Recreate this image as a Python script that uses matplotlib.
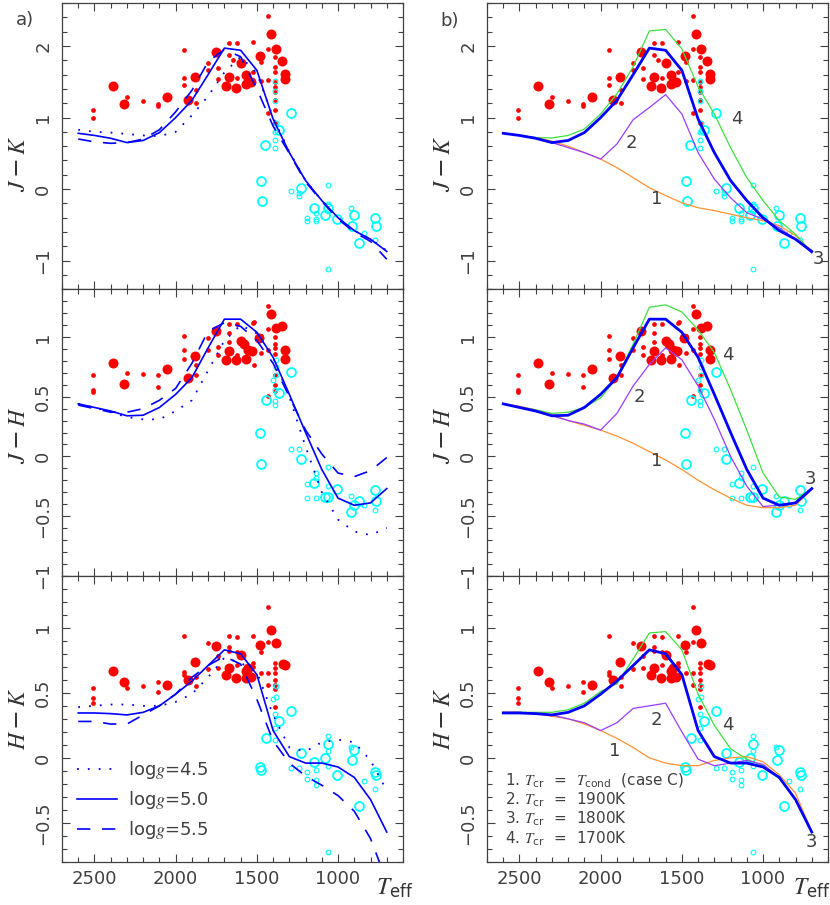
import numpy as np
import matplotlib
matplotlib.use('Agg')
import matplotlib.pyplot as plt
from matplotlib.ticker import MultipleLocator, FuncFormatter

plt.rcParams['font.family'] = ['DejaVu Sans']
plt.rcParams['mathtext.fontset'] = 'custom'
plt.rcParams['mathtext.rm'] = 'DejaVu Sans'
plt.rcParams['mathtext.sf'] = 'DejaVu Sans'
plt.rcParams['mathtext.it'] = 'STIXGeneral:italic'
plt.rcParams['mathtext.bf'] = 'DejaVu Sans:bold'
plt.rcParams['font.size'] = 13

# ---- model grid (Teff) ----
teff_model = [2600, 2500, 2400, 2300, 2200, 2100, 2000, 1900, 1800, 1700,
              1600, 1500, 1400, 1300, 1200, 1100, 1000, 900, 800, 700]

# J-K models
jk_g45 = [0.83, 0.80, 0.79, 0.77, 0.75, 0.74, 0.80, 1.03, 1.30, 1.63, 1.85, 1.62, 1.00, 0.52, 0.12, -0.16, -0.40, -0.58, -0.70, -0.86]
jk_g50 = [0.78, 0.75, 0.71, 0.65, 0.68, 0.79, 1.00, 1.24, 1.60, 1.97, 1.94, 1.66, 0.98, 0.51, 0.12, -0.16, -0.40, -0.58, -0.70, -0.87]
jk_g55 = [0.70, 0.66, 0.64, 0.65, 0.70, 0.83, 1.08, 1.38, 1.78, 1.95, 1.85, 1.40, 0.88, 0.50, 0.10, -0.17, -0.42, -0.60, -0.73, -0.98]
jk_c1 = [0.78, 0.75, 0.72, 0.67, 0.60, 0.51, 0.42, 0.30, 0.16, 0.02, -0.09, -0.19, -0.26, -0.30, -0.35, -0.40, -0.44, -0.51, -0.65, -0.87]
jk_c2 = [0.78, 0.75, 0.71, 0.65, 0.58, 0.51, 0.42, 0.63, 0.97, 1.14, 1.32, 1.05, 0.51, 0.14, -0.12, -0.33, -0.42, -0.54, -0.70, -0.89]
jk_c4 = [0.78, 0.75, 0.72, 0.715, 0.75, 0.84, 1.05, 1.33, 1.71, 2.21, 2.23, 1.96, 1.43, 1.05, 0.58, 0.16, -0.16, -0.44, -0.63, -0.89]

# J-H models
jh_g45 = [0.44, 0.41, 0.37, 0.33, 0.31, 0.31, 0.38, 0.47, 0.72, 0.97, 1.10, 1.03, 0.83, 0.50, 0.08, -0.30, -0.53, -0.63, -0.66, -0.60]
jh_g50 = [0.44, 0.41, 0.38, 0.34, 0.345, 0.41, 0.52, 0.66, 0.91, 1.15, 1.15, 1.04, 0.83, 0.52, 0.20, -0.11, -0.35, -0.41, -0.39, -0.27]
jh_g55 = [0.43, 0.40, 0.37, 0.37, 0.40, 0.47, 0.57, 0.78, 1.05, 1.12, 1.09, 0.97, 0.78, 0.50, 0.22, 0.02, -0.14, -0.17, -0.12, -0.01]
jh_c1 = [0.44, 0.42, 0.39, 0.35, 0.30, 0.26, 0.22, 0.17, 0.11, 0.04, -0.03, -0.11, -0.20, -0.28, -0.35, -0.41, -0.43, -0.43, -0.41, -0.28]
jh_c2 = [0.44, 0.41, 0.38, 0.34, 0.30, 0.27, 0.22, 0.36, 0.59, 0.77, 0.91, 0.81, 0.59, 0.31, 0.00, -0.25, -0.42, -0.41, -0.39, -0.27]
jh_c4 = [0.44, 0.41, 0.39, 0.36, 0.37, 0.41, 0.49, 0.66, 0.94, 1.25, 1.27, 1.21, 1.06, 0.87, 0.56, 0.22, -0.14, -0.34, -0.36, -0.27]

# H-K models
hk_g45 = [0.39, 0.40, 0.41, 0.41, 0.40, 0.40, 0.43, 0.49, 0.62, 0.77, 0.73, 0.66, 0.33, 0.08, 0.05, 0.12, 0.14, 0.12, -0.02, -0.25]
hk_g50 = [0.345, 0.345, 0.34, 0.33, 0.35, 0.40, 0.49, 0.59, 0.71, 0.83, 0.80, 0.64, 0.21, 0.01, -0.04, -0.04, -0.07, -0.15, -0.32, -0.57]
hk_g55 = [0.28, 0.28, 0.26, 0.26, 0.33, 0.40, 0.49, 0.62, 0.71, 0.78, 0.72, 0.45, 0.13, -0.04, -0.14, -0.21, -0.29, -0.41, -0.62, -0.95]
hk_c1 = [0.35, 0.35, 0.34, 0.32, 0.30, 0.26, 0.21, 0.15, 0.08, 0.00, -0.04, -0.06, -0.06, -0.02, 0.00, 0.01, -0.03, -0.13, -0.27, -0.57]
hk_c2 = [0.35, 0.35, 0.34, 0.33, 0.30, 0.27, 0.21, 0.27, 0.38, 0.40, 0.42, 0.20, -0.01, -0.06, -0.04, -0.02, -0.05, -0.15, -0.32, -0.57]
hk_c4 = [0.35, 0.35, 0.35, 0.35, 0.37, 0.42, 0.51, 0.57, 0.76, 0.96, 0.97, 0.83, 0.49, 0.25, 0.07, -0.01, -0.06, -0.16, -0.32, -0.57]

# ---- observed L dwarfs (red) and T dwarfs (cyan); big: 1 = large symbol ----
L_jk_T = [1431, 1410, 1385, 1429, 1348, 1389, 1482, 1472, 1523, 1671, 1622, 1753, 1671, 1595, 1647,
          1801, 1801, 1739, 1949, 1879, 1949, 1949, 1873, 1924, 1873, 2052, 2109, 2109, 2202, 2321,
          2300, 2383, 2510, 2510, 1739, 1671, 1692, 1630, 1622, 1568, 1564, 1533, 1523, 1472, 1431,
          1328, 1328, 1389, 1389, 1389, 1389, 1389, 1389, 1389, 1389, 1431]
L_jk = [2.42, 2.17, 1.96, 1.96, 1.79, 1.85, 1.86, 1.77, 2.05, 2.04, 2.04, 1.91, 1.87, 1.76, 1.80,
        1.76, 1.66, 1.69, 1.94, 1.56, 1.55, 1.45, 1.38, 1.25, 1.21, 1.28, 1.19, 1.16, 1.23, 1.19,
        1.28, 1.44, 1.10, 0.99, 1.54, 1.57, 1.44, 1.41, 1.55, 1.60, 1.47, 1.49, 1.63, 1.51, 1.53,
        1.61, 1.54, 1.70, 1.63, 1.49, 1.42, 1.35, 1.25, 1.10, 0.93, 1.06]
L_jk_big = [0, 1, 1, 0, 1, 0, 1, 0, 0, 0, 0, 1, 0, 1, 0,
            0, 0, 0, 0, 1, 0, 0, 0, 1, 0, 1, 0, 0, 0, 1,
            0, 1, 0, 0, 0, 1, 1, 1, 0, 1, 1, 1, 0, 0, 0,
            1, 1, 0, 0, 0, 0, 0, 0, 0, 0, 0]

T_jk_T = [1291, 1389, 1389, 1389, 1383, 1363, 1389, 1389, 1389, 1447, 1476, 1468, 1291, 1231, 1239,
          1239, 1060, 1149, 1190, 1190, 1134, 1134, 1134, 1081, 1060, 1060, 1060, 1005, 920, 900,
          917, 872, 841, 772, 766, 772, 1060]
T_jk = [1.06, 1.51, 1.37, 1.23, 0.92, 0.82, 0.80, 0.68, 0.57, 0.62, 0.12, -0.16, -0.02, 0.01, -0.09,
        -0.05, 0.06, -0.26, -0.41, -0.45, -0.33, -0.42, -0.44, -0.36, -0.26, -0.21, -0.30, -0.42, -0.27, -0.36,
        -0.51, -0.75, -0.61, -0.41, -0.52, -0.71, -1.11]
T_jk_big = [1, 0, 0, 0, 0, 1, 0, 0, 0, 1, 1, 1, 0, 1, 0,
            0, 0, 1, 0, 0, 0, 0, 0, 1, 1, 0, 0, 1, 0, 1,
            1, 1, 0, 1, 1, 0, 0]

L_jh_T = [1431, 1410, 1385, 1348, 1431, 1389, 1389, 1389, 1389, 1389, 1389, 1389, 1328, 1328, 1486,
          1472, 1523, 1622, 1671, 1753, 1671, 1671, 1595, 1580, 1554, 1529, 1564, 1630, 1692, 1671,
          1622, 1517, 1517, 1739, 1739, 1801, 1801, 1949, 1949, 1949, 1879, 1873, 1924, 1873, 2052,
          2109, 2109, 2202, 2321, 2300, 2383, 2510, 2510, 2510, 1431, 1431, 1472]
L_jh = [1.26, 1.19, 1.08, 1.09, 1.07, 1.00, 0.94, 0.91, 0.86, 0.68, 0.60, 0.55, 0.89, 0.82, 0.99,
        0.87, 1.12, 1.11, 1.11, 1.05, 1.03, 0.96, 0.97, 0.94, 0.89, 0.88, 0.82, 0.81, 0.81, 0.88,
        0.85, 0.77, 1.13, 0.92, 0.85, 0.99, 0.89, 1.01, 0.89, 0.82, 0.84, 0.77, 0.66, 0.68, 0.73,
        0.68, 0.58, 0.69, 0.61, 0.70, 0.78, 0.68, 0.56, 0.54, 0.51, 0.89, 1.01]
L_jh_big = [0, 1, 1, 1, 0, 0, 0, 0, 0, 0, 0, 0, 1, 1, 1,
            0, 0, 0, 0, 1, 0, 0, 1, 1, 1, 1, 1, 1, 1, 1,
            0, 0, 0, 0, 0, 0, 0, 0, 0, 0, 1, 0, 1, 0, 1,
            0, 0, 0, 1, 0, 1, 0, 0, 0, 0, 0, 0]

T_jh_T = [1291, 1383, 1383, 1383, 1400, 1389, 1363, 1389, 1389, 1445, 1478, 1476, 1291, 1239, 1231,
          1134, 1134, 1149, 1190, 1190, 1134, 1060, 1060, 1081, 1060, 1005, 920, 872, 900, 920,
          841, 772, 766, 772]
T_jh = [0.71, 0.81, 0.75, 0.68, 0.64, 0.56, 0.53, 0.46, 0.43, 0.47, 0.20, -0.06, 0.06, 0.06, -0.02,
        -0.14, -0.18, -0.22, -0.23, -0.35, -0.35, -0.09, -0.25, -0.34, -0.34, -0.27, -0.33, -0.37, -0.41, -0.47,
        -0.41, -0.28, -0.37, -0.45]
T_jh_big = [1, 0, 0, 0, 0, 0, 1, 0, 0, 1, 1, 1, 0, 0, 1,
            0, 0, 1, 0, 0, 0, 0, 0, 1, 1, 1, 0, 1, 1, 1,
            0, 1, 1, 0]

L_hk_T = [1431, 1410, 1385, 1431, 1482, 1472, 1523, 1671, 1622, 1753, 1801, 1671, 1595, 1622, 1739,
          1949, 1879, 1949, 1949, 1873, 1924, 1873, 2052, 2109, 2109, 2202, 2321, 2300, 2383, 2510,
          2510, 2510, 1801, 1739, 1671, 1692, 1630, 1622, 1568, 1564, 1533, 1554, 1523, 1523, 1472,
          1431, 1431, 1328, 1340, 1389, 1389, 1389, 1389, 1389, 1389, 1389, 1671]
L_hk = [1.16, 0.98, 0.88, 0.89, 0.87, 0.81, 0.94, 0.94, 0.93, 0.86, 0.88, 0.85, 0.79, 0.81, 0.78,
        0.94, 0.74, 0.66, 0.64, 0.62, 0.60, 0.55, 0.56, 0.58, 0.51, 0.55, 0.58, 0.54, 0.67, 0.54,
        0.46, 0.42, 0.68, 0.69, 0.69, 0.64, 0.61, 0.71, 0.67, 0.61, 0.62, 0.69, 0.73, 0.70, 0.65,
        0.65, 0.56, 0.71, 0.72, 0.73, 0.69, 0.65, 0.60, 0.56, 0.53, 0.39, 0.82]
L_hk_big = [0, 1, 1, 0, 1, 0, 0, 0, 0, 1, 0, 0, 1, 0, 0,
            0, 1, 0, 0, 0, 1, 0, 1, 0, 0, 0, 1, 0, 1, 0,
            0, 0, 0, 0, 1, 1, 1, 0, 1, 1, 1, 1, 0, 0, 0,
            0, 0, 1, 1, 0, 0, 0, 0, 0, 0, 0, 0]

T_hk_T = [1291, 1383, 1383, 1400, 1389, 1363, 1389, 1389, 1445, 1478, 1476, 1291, 1239, 1231, 1190,
          1190, 1149, 1134, 1134, 1134, 1081, 1060, 1060, 1060, 1060, 1005, 920, 900, 917, 872,
          841, 772, 766, 772, 1060]
T_hk = [0.36, 0.55, 0.47, 0.45, 0.34, 0.28, 0.23, 0.14, 0.15, -0.07, -0.09, -0.08, -0.08, 0.04, -0.11,
        -0.16, -0.03, -0.09, -0.17, -0.21, 0.00, 0.11, 0.17, 0.05, -0.06, -0.13, 0.08, 0.06, -0.02, -0.37,
        -0.18, -0.11, -0.13, -0.24, -0.72]
T_hk_big = [1, 0, 0, 0, 0, 1, 0, 0, 1, 1, 1, 0, 0, 1, 0,
            0, 1, 0, 0, 0, 1, 1, 0, 0, 0, 1, 0, 1, 1, 1,
            0, 1, 1, 0, 0]

gray = '0.25'


def draw_points(ax, lT, ly, lbig, tT, ty, tbig):
    lT, ly, lbig = np.array(lT), np.array(ly), np.array(lbig)
    tT, ty, tbig = np.array(tT), np.array(ty), np.array(tbig)
    ax.plot(lT[lbig == 0], ly[lbig == 0], 'o', color='red', ms=3.4, mec='none')
    ax.plot(lT[lbig == 1], ly[lbig == 1], 'o', color='red', ms=7.2, mec='none')
    ax.plot(tT[tbig == 0], ty[tbig == 0], 'o', mfc='none', mec='#00ffff', ms=3.4, mew=0.8)
    ax.plot(tT[tbig == 1], ty[tbig == 1], 'o', mfc='none', mec='#00ffff', ms=6.4, mew=1.3)


def fmt(v, pos):
    s = '%g' % round(v, 3)
    if s == '-0':
        s = '0'
    return s.replace('-', '\u2212')


def style_axes(ax, ymin, ymax, ymaj, ymin_step, show_x):
    ax.set_xlim(2700, 600)
    ax.set_ylim(ymin, ymax)
    ax.xaxis.set_major_locator(MultipleLocator(500))
    ax.xaxis.set_minor_locator(MultipleLocator(100))
    ax.yaxis.set_major_locator(MultipleLocator(ymaj))
    ax.yaxis.set_minor_locator(MultipleLocator(ymin_step))
    ax.yaxis.set_major_formatter(FuncFormatter(fmt))
    ax.tick_params(which='both', direction='in', top=True, right=True, color=gray, width=0.8,
                   labelcolor=gray, labelsize=13)
    ax.tick_params(which='major', length=6)
    ax.tick_params(which='minor', length=3.5)
    ax.tick_params(axis='y', labelrotation=90, pad=7)
    ax.tick_params(axis='x', pad=6)
    for lab in ax.get_yticklabels():
        lab.set_verticalalignment('center')
    if not show_x:
        ax.tick_params(axis='x', labelbottom=False)
    for sp in ax.spines.values():
        sp.set_color(gray)
        sp.set_linewidth(0.9)


fig = plt.figure(figsize=(8.3, 9.05), dpi=100)
W = 341 / 830
H = 286.33 / 905
bottoms = [1 - 862 / 905 + 2 * H, 1 - 862 / 905 + H, 1 - 862 / 905]
lefts = [62 / 830, 487 / 830]

rows = [
    ('$J-K$', (-1.4, 2.6), 1.0, 0.2, L_jk_T, L_jk, L_jk_big, T_jk_T, T_jk, T_jk_big,
     jk_g45, jk_g50, jk_g55, jk_c1, jk_c2, jk_c4, 0.44),
    ('$J-H$', (-1.0, 1.4), 0.5, 0.1, L_jh_T, L_jh, L_jh_big, T_jh_T, T_jh, T_jh_big,
     jh_g45, jh_g50, jh_g55, jh_c1, jh_c2, jh_c4, 0.49),
    ('$H-K$', (-0.8, 1.4), 0.5, 0.1, L_hk_T, L_hk, L_hk_big, T_hk_T, T_hk, T_hk_big,
     hk_g45, hk_g50, hk_g55, hk_c1, hk_c2, hk_c4, 0.5),
]

# positions of curve numbers in panel b
num_pos = [
    [('4', 1163, 0.98), ('2', 1809, 0.65), ('1', 1657, -0.14), ('3', 661, -0.98)],
    [('4', 1217, 0.85), ('2', 1760, 0.50), ('1', 1657, -0.04), ('3', 711, -0.19)],
    [('4', 1217, 0.25), ('2', 1657, 0.29), ('1', 1914, 0.05), ('3', 700, -0.65)],
]

for r, row in enumerate(rows):
    (ylab, ylim, ymaj, ymin_step, lT, ly, lbig, tT, ty, tbig,
     g45, g50, g55, c1, c2, c4, labpos) = row
    show_x = (r == 2)

    # ---- panel a : gravity ----
    ax = fig.add_axes([lefts[0], bottoms[r], W, H])
    draw_points(ax, lT, ly, lbig, tT, ty, tbig)
    ax.plot(teff_model, g45, color='blue', lw=1.3, ls=(0, (1, 5)), label='log$g$=4.5')
    ax.plot(teff_model, g50, color='blue', lw=1.2, label='log$g$=5.0')
    ax.plot(teff_model, g55, color='blue', lw=1.2, ls=(0, (8, 7)), label='log$g$=5.5')
    style_axes(ax, ylim[0], ylim[1], ymaj, ymin_step, show_x)
    ax.set_ylabel(ylab, fontsize=17, color='0.2')
    ax.yaxis.set_label_coords(-0.095, labpos)
    if show_x:
        ax.text(0.975, -0.05, r'$T_{\rm eff}$', transform=ax.transAxes, ha='center', va='top',
                fontsize=17, color='0.2')
        ax.legend(loc='upper left', bbox_to_anchor=(0.045, 0.36), frameon=False, fontsize=13,
                  handlelength=2.2, handletextpad=0.6, labelspacing=0.45, borderpad=0,
                  borderaxespad=0, labelcolor='0.25')

    # ---- panel b : critical temperature ----
    ax = fig.add_axes([lefts[1], bottoms[r], W, H])
    draw_points(ax, lT, ly, lbig, tT, ty, tbig)
    ax.plot(teff_model, c1, color='#ff9233', lw=0.9)
    ax.plot(teff_model, c4, color='#3ee03e', lw=0.9)
    ax.plot(teff_model, c2, color='#9a3cff', lw=0.9)
    ax.plot(teff_model, g50, color='blue', lw=2.0)
    for txt, tx, ty_ in num_pos[r]:
        ax.text(tx, ty_, txt, ha='center', va='center', fontsize=13, color=gray)
    style_axes(ax, ylim[0], ylim[1], ymaj, ymin_step, show_x)
    ax.set_ylabel(ylab, fontsize=17, color='0.2')
    ax.yaxis.set_label_coords(-0.095, labpos)
    if show_x:
        ax.text(0.952, -0.05, r'$T_{\rm eff}$', transform=ax.transAxes, ha='center', va='top',
                fontsize=17, color='0.2')
        leg_lines = [r'1. $T_{\rm cr}$  =  $T_{\rm cond}$  (case C)',
                     r'2. $T_{\rm cr}$  =  1900K',
                     r'3. $T_{\rm cr}$  =  1800K',
                     r'4. $T_{\rm cr}$  =  1700K']
        for k, s in enumerate(leg_lines):
            ax.text(0.053, 0.286 - k * 0.068, s, transform=ax.transAxes, ha='left', va='center',
                    fontsize=11, color=gray)

fig.text(25 / 830, 1 - 20 / 905, 'a)', ha='center', va='center', fontsize=13, color=gray)
fig.text(450 / 830, 1 - 21 / 905, 'b)', ha='center', va='center', fontsize=13, color=gray)

plt.savefig('out.png', dpi=100)
